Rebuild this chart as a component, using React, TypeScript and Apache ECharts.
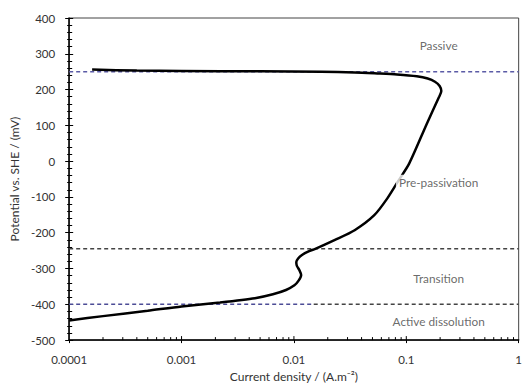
import React, { useEffect, useRef } from "react";
import * as echarts from "echarts";

// Polarisation curve (current density in A/m², potential in mV vs SHE)
const currentDensity = [
  0.0001, 0.0002, 0.0005, 0.001, 0.0022, 0.0045, 0.0065, 0.0085, 0.0101, 0.011,
  0.0116, 0.0112, 0.0106, 0.0105, 0.0109, 0.0118, 0.0135, 0.0155, 0.0232, 0.0347,
  0.0519, 0.0678, 0.085, 0.106, 0.152, 0.196, 0.205, 0.198, 0.18, 0.155, 0.124,
  0.0827, 0.0553, 0.0347, 0.0175, 0.005, 0.001, 0.0004, 0.00016,
];
const potential = [
  -445, -433, -418, -406, -395, -383, -372, -360, -347, -334,
  -318, -305, -292, -282, -272, -262, -252, -245, -220, -193,
  -151, -104, -55, -7, 104, 180, 196, 210, 222, 231, 237,
  242, 245, 248, 250, 251, 252, 253, 256,
];

// Region boundaries (mV)
const passiveLevel = 250;
const transitionLevel = -245;
const activeLevel = -400;

// Region labels
const regionNames = ["Passive", "Pre-passivation", "Transition", "Active dissolution"];
const regionX = [0.194, 0.194, 0.194, 0.194];
const regionY = [322, -60, -328, -447];

// Axis
const xMin = 0.0001;
const xMax = 1;
const yMin = -500;
const yMax = 400;
const yInterval = 100;
const xMajorInner = [0.001, 0.01, 0.1];
const xMinorMultipliers = [2, 3, 4, 5, 6, 7, 8, 9];
const xDecades = [0.0001, 0.001, 0.01, 0.1];

export default function App() {
  const ref = useRef<HTMLDivElement>(null);

  useEffect(() => {
    if (!ref.current) return;
    const chart = echarts.init(ref.current, null, { renderer: "svg" });

    const curve = currentDensity.map((x, i) => [x, potential[i]]);
    const minorTicks: number[][] = [];
    xDecades.forEach((d) =>
      xMinorMultipliers.forEach((m) => minorTicks.push([+(d * m).toPrecision(2), yMin, 3]))
    );
    xMajorInner.forEach((v) => minorTicks.push([v, yMin, 4]));

    const font = "Lato";
    const dash = (y: number, x0: number, x1: number, color: string) => ({
      type: "line",
      data: [
        [x0, y],
        [x1, y],
      ],
      symbol: "none",
      silent: true,
      lineStyle: { color, width: 1.5, type: [4, 3] },
      z: 1,
    });

    chart.setOption({
      animation: false,
      backgroundColor: "#fff",
      grid: {
        left: 68,
        right: 2,
        top: 18,
        bottom: 44,
        show: true,
        borderColor: "#444",
        borderWidth: 1,
      },
      xAxis: {
        type: "log",
        logBase: 10,
        min: xMin,
        max: xMax,
        name: "Current density / (A.m\u207B\u00B2)",
        nameLocation: "middle",
        nameGap: 28,
        nameTextStyle: { fontFamily: font, fontSize: 12, color: "#333" },
        axisLine: { onZero: false, lineStyle: { color: "#000", width: 1.5 } },
        axisTick: { show: true, length: 3, lineStyle: { color: "#000" } },
        splitLine: { show: false },
        axisLabel: {
          fontFamily: font,
          fontSize: 11.5,
          color: "#333",
          margin: 13,
          formatter: (v: number) => String(Number(v.toPrecision(1))),
        },
      },
      yAxis: [
        {
          type: "value",
          min: yMin,
          max: yMax,
          interval: yInterval,
          name: "Potential vs. SHE / (mV)",
          nameLocation: "middle",
          nameGap: 44,
          nameTextStyle: { fontFamily: font, fontSize: 12, color: "#333" },
          axisLine: { show: true, onZero: false, lineStyle: { color: "#000", width: 1.5 } },
          axisTick: { show: true, length: 4, lineStyle: { color: "#000" } },
          minorTick: { show: true, splitNumber: 5, length: 2, lineStyle: { color: "#000" } },
          splitLine: { show: false },
          axisLabel: { fontFamily: font, fontSize: 11.5, color: "#333", margin: 14 },
        },
        {
          type: "value",
          position: "left",
          min: yMin,
          max: yMax,
          interval: yInterval,
          axisLine: { show: false, onZero: false },
          axisTick: { show: true, inside: true, length: 4, lineStyle: { color: "#000" } },
          minorTick: { show: true, splitNumber: 5, length: 3, lineStyle: { color: "#000" } },
          splitLine: { show: false },
          axisLabel: { show: false },
        },
      ],
      series: [
        dash(passiveLevel, xMin, xMax, "#5b5ba6"),
        dash(transitionLevel, xMin, xMax, "#444"),
        dash(activeLevel, xMin, 0.015, "#4c4c96"),
        dash(activeLevel, 0.015, xMax, "#444"),
        {
          type: "line",
          data: curve,
          symbol: "none",
          smooth: 0.25,
          lineStyle: { color: "#000", width: 2.5 },
          z: 3,
          silent: true,
        },
        {
          type: "scatter",
          data: regionNames.map((n, i) => ({ name: n, value: [regionX[i], regionY[i]] })),
          symbolSize: 0,
          z: 5,
          silent: true,
          label: {
            show: true,
            position: "inside",
            formatter: (p: any) => p.name,
            fontFamily: font,
            fontSize: 11.8,
            color: "#444",
            backgroundColor: "#fff",
            padding: [2, 3],
          },
        },
        {
          type: "custom",
          data: minorTicks,
          silent: true,
          z: 6,
          renderItem: (_params: any, api: any) => {
            const p = api.coord([api.value(0), api.value(1)]);
            const len = api.value(2);
            return {
              type: "line",
              shape: { x1: p[0], y1: p[1], x2: p[0], y2: p[1] - len },
              style: { stroke: "#000", lineWidth: 1 },
            };
          },
        },
      ],
    });

    return () => chart.dispose();
  }, []);

  return (
    <div
      ref={ref}
      style={{ position: "absolute", left: 0, top: 0, width: 525, height: 387 }}
    />
  );
}
